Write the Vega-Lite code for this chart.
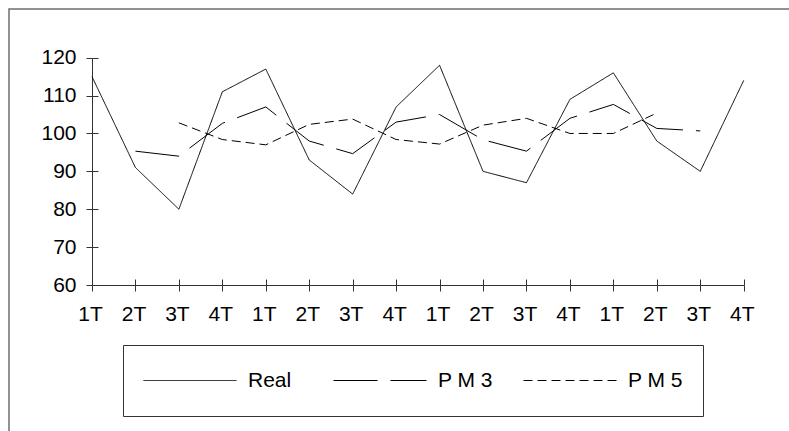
{
  "$schema": "https://vega.github.io/schema/vega-lite/v6.json",
  "width": 783,
  "height": 425,
  "autosize": {"type": "none"},
  "padding": {"left": 9, "top": 9, "right": -3, "bottom": -3},
  "background": "white",
  "config": {
    "view": {"stroke": "#6e6e6e", "strokeWidth": 1.5},
    "font": "Liberation Sans",
    "axis": {
      "grid": false,
      "labelFont": "Liberation Sans",
      "labelFontSize": 21,
      "labelColor": "black",
      "domainColor": "#333333",
      "tickColor": "#333333",
      "domainWidth": 1,
      "tickWidth": 1,
      "title": null
    }
  },
  "data": {
    "values": [
      {"n": 1, "trimestre": "1T", "serie": "Real", "valor": 115},
      {"n": 2, "trimestre": "2T", "serie": "Real", "valor": 91},
      {"n": 3, "trimestre": "3T", "serie": "Real", "valor": 80},
      {"n": 4, "trimestre": "4T", "serie": "Real", "valor": 111},
      {"n": 5, "trimestre": "1T", "serie": "Real", "valor": 117},
      {"n": 6, "trimestre": "2T", "serie": "Real", "valor": 93},
      {"n": 7, "trimestre": "3T", "serie": "Real", "valor": 84},
      {"n": 8, "trimestre": "4T", "serie": "Real", "valor": 107},
      {"n": 9, "trimestre": "1T", "serie": "Real", "valor": 118},
      {"n": 10, "trimestre": "2T", "serie": "Real", "valor": 90},
      {"n": 11, "trimestre": "3T", "serie": "Real", "valor": 87},
      {"n": 12, "trimestre": "4T", "serie": "Real", "valor": 109},
      {"n": 13, "trimestre": "1T", "serie": "Real", "valor": 116},
      {"n": 14, "trimestre": "2T", "serie": "Real", "valor": 98},
      {"n": 15, "trimestre": "3T", "serie": "Real", "valor": 90},
      {"n": 16, "trimestre": "4T", "serie": "Real", "valor": 114},
      {"n": 2, "trimestre": "2T", "serie": "P M 3", "valor": 95.33},
      {"n": 3, "trimestre": "3T", "serie": "P M 3", "valor": 94},
      {"n": 4, "trimestre": "4T", "serie": "P M 3", "valor": 102.67},
      {"n": 5, "trimestre": "1T", "serie": "P M 3", "valor": 107},
      {"n": 6, "trimestre": "2T", "serie": "P M 3", "valor": 98},
      {"n": 7, "trimestre": "3T", "serie": "P M 3", "valor": 94.67},
      {"n": 8, "trimestre": "4T", "serie": "P M 3", "valor": 103},
      {"n": 9, "trimestre": "1T", "serie": "P M 3", "valor": 105},
      {"n": 10, "trimestre": "2T", "serie": "P M 3", "valor": 98.33},
      {"n": 11, "trimestre": "3T", "serie": "P M 3", "valor": 95.33},
      {"n": 12, "trimestre": "4T", "serie": "P M 3", "valor": 104},
      {"n": 13, "trimestre": "1T", "serie": "P M 3", "valor": 107.67},
      {"n": 14, "trimestre": "2T", "serie": "P M 3", "valor": 101.33},
      {"n": 15, "trimestre": "3T", "serie": "P M 3", "valor": 100.67},
      {"n": 3, "trimestre": "3T", "serie": "P M 5", "valor": 102.8},
      {"n": 4, "trimestre": "4T", "serie": "P M 5", "valor": 98.4},
      {"n": 5, "trimestre": "1T", "serie": "P M 5", "valor": 97},
      {"n": 6, "trimestre": "2T", "serie": "P M 5", "valor": 102.4},
      {"n": 7, "trimestre": "3T", "serie": "P M 5", "valor": 103.8},
      {"n": 8, "trimestre": "4T", "serie": "P M 5", "valor": 98.4},
      {"n": 9, "trimestre": "1T", "serie": "P M 5", "valor": 97.2},
      {"n": 10, "trimestre": "2T", "serie": "P M 5", "valor": 102.2},
      {"n": 11, "trimestre": "3T", "serie": "P M 5", "valor": 104},
      {"n": 12, "trimestre": "4T", "serie": "P M 5", "valor": 100},
      {"n": 13, "trimestre": "1T", "serie": "P M 5", "valor": 100},
      {"n": 14, "trimestre": "2T", "serie": "P M 5", "valor": 105.4}
    ]
  },
  "layer": [
    {
      "mark": {"type": "line", "color": "black", "strokeWidth": 1},
      "encoding": {
        "x": {
          "field": "n",
          "type": "quantitative",
          "scale": {"domain": [1, 16], "range": [83, 734.7], "nice": false, "zero": false},
          "axis": {
            "orient": "bottom",
            "offset": -149,
            "values": [1, 2, 3, 4, 5, 6, 7, 8, 9, 10, 11, 12, 13, 14, 15, 16],
            "labelExpr": "['1T','2T','3T','4T'][(datum.value - 1) % 4]",
            "tickSize": 6,
            "labelPadding": 12,
            "labelOffset": -2,
            "labelFlush": false,
            "labelOverlap": false
          }
        },
        "y": {
          "field": "valor",
          "type": "quantitative",
          "scale": {"domain": [60, 120], "range": [276, 48.7], "nice": false, "zero": false},
          "axis": {
            "orient": "left",
            "offset": -83,
            "values": [60, 70, 80, 90, 100, 110, 120],
            "tickSize": 6,
            "labelPadding": 10,
            "labelOverlap": false
          }
        },
        "strokeDash": {
          "field": "serie",
          "type": "nominal",
          "scale": {"domain": ["Real", "P M 3", "P M 5"], "range": [[1, 0], [44, 13], [9, 5]]},
          "legend": {
            "orient": "none",
            "legendX": 114,
            "legendY": 336,
            "direction": "horizontal",
            "columns": 3,
            "gridAlign": "all",
            "title": null,
            "symbolType": "stroke",
            "symbolSize": 8649,
            "symbolStrokeWidth": 1,
            "symbolStrokeColor": "black",
            "labelFont": "Liberation Sans",
            "labelFontSize": 21,
            "labelColor": "black",
            "labelOffset": 11,
            "labelLimit": 300,
            "columnPadding": 30,
            "padding": 20,
            "strokeColor": "#333333",
            "fillColor": "white",
            "clipHeight": 31
          }
        }
      }
    },
    {
      "mark": {"type": "point", "opacity": 0},
      "encoding": {
        "x": {
          "field": "n",
          "type": "quantitative",
          "axis": {
            "orient": "bottom",
            "offset": -149,
            "values": [1, 2, 3, 4, 5, 6, 7, 8, 9, 10, 11, 12, 13, 14, 15, 16],
            "tickSize": -6,
            "labels": false,
            "domain": false
          }
        },
        "y": {
          "field": "valor",
          "type": "quantitative",
          "axis": {
            "orient": "left",
            "offset": -83,
            "values": [60, 70, 80, 90, 100, 110, 120],
            "tickSize": -6,
            "labels": false,
            "domain": false
          }
        }
      }
    }
  ],
  "resolve": {"axis": {"x": "independent", "y": "independent"}}
}
